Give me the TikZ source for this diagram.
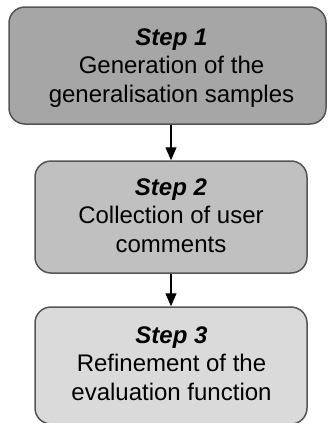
\documentclass[tikz,border=0pt]{standalone}
\usepackage{fontspec}
\setmainfont{Liberation Sans}
\usetikzlibrary{arrows.meta}
\definecolor{fillone}{HTML}{A6A6A6}
\definecolor{filltwo}{HTML}{C0C0C0}
\definecolor{fillthree}{HTML}{DADADA}
\definecolor{edgecol}{HTML}{555555}
\begin{document}
\begin{tikzpicture}[x=1pt,y=-1pt,
  stepbox/.style={draw=edgecol, line width=1.5pt, rounded corners=16pt, inner sep=0pt},
  txt/.style={align=center, inner sep=0pt, anchor=north, font=\fontsize{24}{28.5}\selectfont, text=black},
  conn/.style={line width=1.2pt, -{Triangle[width=11pt,length=13pt]}}]
\useasboundingbox (0,0) rectangle (327,423);
\node[stepbox, fill=fillone, minimum width=317pt, minimum height=117pt] (s1) at (167.5,65.5) {};
\node[stepbox, fill=filltwo, minimum width=272pt, minimum height=112pt] (s2) at (171,217) {};
\node[stepbox, fill=fillthree, minimum width=272pt, minimum height=117pt] (s3) at (171,365.5) {};
\node[txt] (t1) at (171.5,28.5) {\textbf{\textit{Step 1}}\\Generation of the\\generalisation samples};
\node[txt] (t2) at (171,178.5) {\textbf{\textit{Step 2}}\\Collection of user\\comments};
\node[txt] (t3) at (171.5,326.5) {\textbf{\textit{Step 3}}\\Refinement of the\\evaluation function};
\draw[conn] (s1.south -| s2.north) -- (s2.north);
\draw[conn] (s2.south) -- (s3.north);
\end{tikzpicture}
\end{document}
